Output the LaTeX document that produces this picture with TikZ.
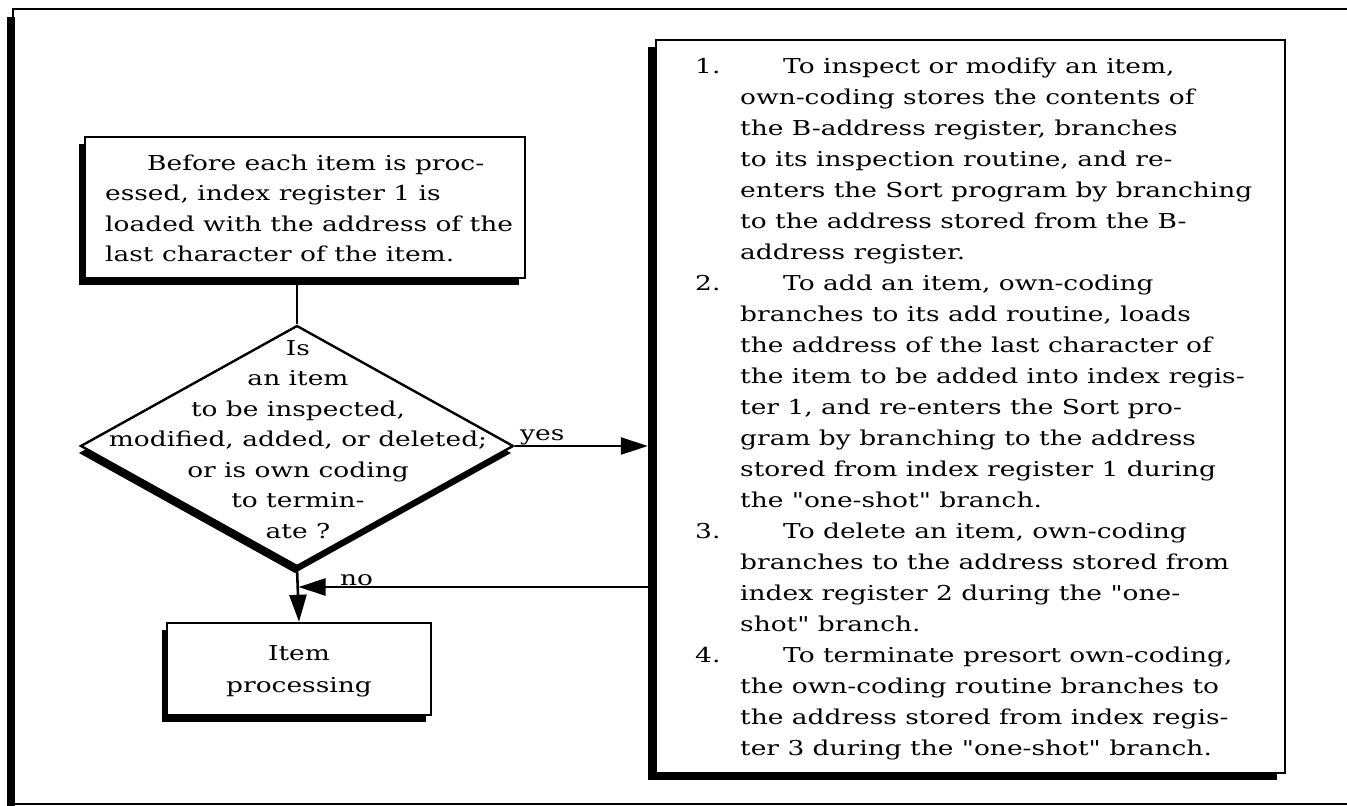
\documentclass[tikz,border=0pt]{standalone}
\usepackage{fontspec}
\setmainfont{DejaVu Serif}[FakeStretch=1.29, Ligatures=TeXOff]
\usetikzlibrary{arrows.meta,shapes.geometric,shadows}

% number of a list entry, hanging to the left of the text column
\newcommand{\entryno}[1]{\llap{\makebox[45pt][l]{#1}}\hspace*{43pt}}

\tikzset{
  boxline/.style={draw=black, line width=2.4pt, fill=white},
  flowbox/.style={boxline, rectangle, inner sep=0pt},
  decision/.style={boxline, diamond, inner sep=0pt},
  boxshadow/.style 2 args={drop shadow={shadow xshift=#1, shadow yshift=#2, fill=black, opacity=1}},
  conn/.style={line width=2.6pt},
  flow/.style={conn, -{Triangle[length=27pt,width=17pt]}},
  txt/.style={inner sep=0pt, font=\fontsize{20.5}{30.5}\selectfont},
}

\begin{document}
\begin{tikzpicture}[x=1pt,y=-1pt]
\useasboundingbox (0,0) rectangle (1347,806);

% page frame: thin top and bottom rules, heavy left edge
\fill (7,17) rectangle (15,806);
\draw[line width=2pt] (1347,9) -| (13,804) -- (1347,804);

% boxes
\node[flowbox, boxshadow={-6pt}{-7pt}, minimum width=440pt, minimum height=141pt] (pre) at (305,207.5) {};
\node[decision, boxshadow={-2pt}{-7pt}, minimum width=433pt, minimum height=241pt] (dec) at (297,446) {};
\node[flowbox, boxshadow={-5pt}{-7pt}, minimum width=264pt, minimum height=92pt] (item) at (299,669) {};
\node[flowbox, boxshadow={-8pt}{-7pt}, minimum width=629pt, minimum height=733pt] (notes) at (970.5,406.5) {};

% texts
\node[txt, anchor=base west] (pretext) at (105,170) {\begin{tabular}[t]{@{}l@{}}
\hspace*{42pt}Before each item is proc-\\
essed, index register 1 is\\
loaded with the address of the\\
last character of the item.\end{tabular}};

\node[txt, anchor=base] (dectext) at (298,355) {\begin{tabular}[t]{@{}c@{}}
Is\\
an item\\
to be inspected,\\
modified, added, or deleted;\\
or is own coding\\
to termin-\\
ate ?\end{tabular}};

\node[txt, anchor=base] (itemtext) at (299,660) {\begin{tabular}[t]{@{}c@{}}
Item\\[1.5pt]
processing\end{tabular}};

\node[txt, font=\fontsize{20.5}{31}\selectfont, anchor=base west] (notestext) at (740,73) {\begin{tabular}[t]{@{}l@{}}
\entryno{1.}To inspect or modify an item,\\
own-coding stores the contents of\\
the B-address register, branches\\
to its inspection routine, and re-\\
enters the Sort program by branching\\
to the address stored from the B-\\
address register.\\
\entryno{2.}To add an item, own-coding\\
branches to its add routine, loads\\
the address of the last character of\\
the item to be added into index regis-\\
ter 1, and re-enters the Sort pro-\\
gram by branching to the address\\
stored from index register 1 during\\
the "one-shot" branch.\\
\entryno{3.}To delete an item, own-coding\\
branches to the address stored from\\
index register 2 during the "one-\\
shot" branch.\\
\entryno{4.}To terminate presort own-coding,\\
the own-coding routine branches to\\
the address stored from index regis-\\
ter 3 during the "one-shot" branch.\end{tabular}};

% connectors
\coordinate (join) at (298.5,587);
\draw[conn] (dec.north |- pre.south) -- (dec.north);
\draw[flow, shorten >=7pt] (dec.east) -- (dec.east -| notes.west);
\draw[flow] (dec.south) -- (item.north);
\draw[flow, shorten <=7pt] (notes.west |- join) -- (join);

\node[txt, anchor=base west] (yes) at (520,440) {yes};
\node[txt, anchor=base west] (no) at (340,585) {no};
\end{tikzpicture}
\end{document}
